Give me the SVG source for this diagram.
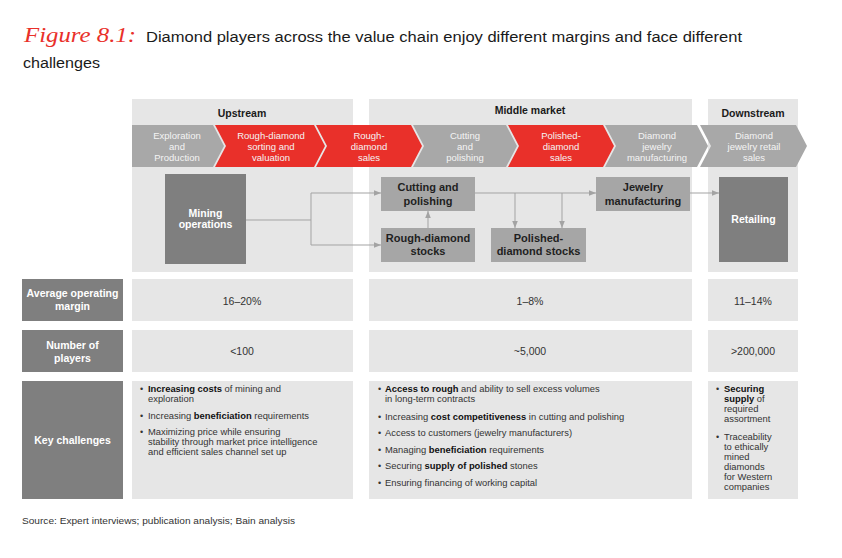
<svg xmlns="http://www.w3.org/2000/svg" width="842" height="558" viewBox="0 0 842 558">
<style>
text{font-family:"Liberation Sans",Arial,sans-serif}
.panel{fill:#e6e6e6}
.dark{fill:#7f7f7f}
.mid{fill:#a6a6a6}
.chg{fill:#a8a8a8}
.chr{fill:#e9302a}
.cht{font-size:9.5px;fill:#f4f4f4;text-anchor:middle}
.hd{font-size:10.5px;font-weight:bold;fill:#1a1a1a;text-anchor:middle}
.wb{font-size:10.5px;font-weight:bold;fill:#ffffff;text-anchor:middle}
.db{font-size:11px;font-weight:bold;fill:#1f1f1f;text-anchor:middle}
.val{font-size:10.5px;fill:#333;text-anchor:middle}
.bl{font-size:9.4px;fill:#333}
.bl tspan.b{font-weight:bold;fill:#111}
.dot{font-size:9px;fill:#333}
.con{stroke:#a3a3a3;stroke-width:1;fill:none}
</style>
<defs>
<marker id="ar" viewBox="0 0 10 10" refX="10" refY="5" markerWidth="7" markerHeight="7" orient="auto" markerUnits="userSpaceOnUse">
<path d="M0,1 L10,5 L0,9 Z" fill="#a3a3a3"/>
</marker>
</defs>
<rect width="842" height="558" fill="#ffffff"/>

<g id="title">
<text x="24" y="42" style="font-family:'Liberation Serif',serif;font-style:italic;font-size:22px;fill:#e9302a" textLength="112" lengthAdjust="spacingAndGlyphs">Figure 8.1:</text>
<text x="146" y="42" font-size="15.5" fill="#1a1a1a" textLength="596" lengthAdjust="spacingAndGlyphs">Diamond players across the value chain enjoy different margins and face different</text>
<text x="23" y="68" font-size="15.5" fill="#1a1a1a" textLength="77" lengthAdjust="spacingAndGlyphs">challenges</text>
</g>

<g id="panels">
<rect class="panel" x="132" y="99" width="221" height="173"/>
<rect class="panel" x="369" y="99" width="323" height="173"/>
<rect class="panel" x="708" y="99" width="90" height="173"/>
<text class="hd" x="242" y="117">Upstream</text>
<text class="hd" x="530" y="114">Middle market</text>
<text class="hd" x="753" y="117">Downstream</text>
</g>

<g id="chevrons">
<path class="chg" d="M132,125 H213 L224,146 L213,167 H132 Z"/>
<path class="chr" d="M215,125 H314 L325,146 L314,167 H215 L226,146 Z"/>
<path class="chr" d="M316,125 H411 L422,146 L411,167 H316 L327,146 Z"/>
<path class="chg" d="M413,125 H506 L517,146 L506,167 H413 L424,146 Z"/>
<path class="chr" d="M508,125 H603 L614,146 L603,167 H508 L519,146 Z"/>
<path class="chg" d="M605,125 H697 L708,146 L697,167 H605 L616,146 Z"/>
<path class="chg" d="M700,125 H796 L807,146 L796,167 H700 L711,146 Z"/>
<text class="cht" x="177" y="138.5">Exploration<tspan x="177" dy="11">and</tspan><tspan x="177" dy="11">Production</tspan></text>
<text class="cht" x="271" y="138.5">Rough-diamond<tspan x="271" dy="11">sorting and</tspan><tspan x="271" dy="11">valuation</tspan></text>
<text class="cht" x="369" y="138.5">Rough-<tspan x="369" dy="11">diamond</tspan><tspan x="369" dy="11">sales</tspan></text>
<text class="cht" x="465" y="138.5">Cutting<tspan x="465" dy="11">and</tspan><tspan x="465" dy="11">polishing</tspan></text>
<text class="cht" x="561" y="138.5">Polished-<tspan x="561" dy="11">diamond</tspan><tspan x="561" dy="11">sales</tspan></text>
<text class="cht" x="657" y="138.5">Diamond<tspan x="657" dy="11">jewelry</tspan><tspan x="657" dy="11">manufacturing</tspan></text>
<text class="cht" x="754" y="138.5">Diamond<tspan x="754" dy="11">jewelry retail</tspan><tspan x="754" dy="11">sales</tspan></text>
</g>

<g id="connectors">
<path class="con" d="M246,220 H311 M311,193 V245"/>
<path class="con" d="M311,193 H381" marker-end="url(#ar)"/>
<path class="con" d="M311,245 H381" marker-end="url(#ar)"/>
<path class="con" d="M428,228 V211" marker-end="url(#ar)"/>
<path class="con" d="M475,193 H596" marker-end="url(#ar)"/>
<path class="con" d="M515,193 V228" marker-end="url(#ar)"/>
<path class="con" d="M562,193 V228" marker-end="url(#ar)"/>
<path class="con" d="M690,193 H719" marker-end="url(#ar)"/>
</g>

<g id="mining">
<rect class="dark" x="165" y="174" width="81" height="90"/>
<text class="wb" x="205.5" y="217">Mining<tspan x="205.5" dy="11">operations</tspan></text>
</g>
<g id="cutting">
<rect class="mid" x="381" y="177" width="94" height="34"/>
<text class="db" x="428" y="191">Cutting and<tspan x="428" dy="14">polishing</tspan></text>
</g>
<g id="rough-stocks">
<rect class="mid" x="381" y="228" width="94" height="34"/>
<text class="db" x="428" y="242">Rough-diamond<tspan x="428" dy="13">stocks</tspan></text>
</g>
<g id="polished-stocks">
<rect class="mid" x="491" y="228" width="95" height="34"/>
<text class="db" x="538.5" y="242">Polished-<tspan x="538.5" dy="13">diamond stocks</tspan></text>
</g>
<g id="jewelry">
<rect class="mid" x="596" y="177" width="94" height="34"/>
<text class="db" x="643" y="191">Jewelry<tspan x="643" dy="14">manufacturing</tspan></text>
</g>
<g id="retailing">
<rect class="dark" x="719" y="177" width="69" height="85"/>
<text class="wb" x="753.5" y="223">Retailing</text>
</g>

<g id="row-margin">
<rect class="dark" x="22" y="279" width="101" height="42"/>
<text class="wb" x="72.5" y="297">Average operating<tspan x="72.5" dy="13">margin</tspan></text>
<rect class="panel" x="132" y="279" width="221" height="42"/>
<rect class="panel" x="369" y="279" width="323" height="42"/>
<rect class="panel" x="708" y="279" width="90" height="42"/>
<text class="val" x="242" y="305">16–20%</text>
<text class="val" x="530" y="305">1–8%</text>
<text class="val" x="753" y="305">11–14%</text>
</g>

<g id="row-players">
<rect class="dark" x="22" y="330" width="101" height="42"/>
<text class="wb" x="72.5" y="349">Number of<tspan x="72.5" dy="13">players</tspan></text>
<rect class="panel" x="132" y="330" width="221" height="42"/>
<rect class="panel" x="369" y="330" width="323" height="42"/>
<rect class="panel" x="708" y="330" width="90" height="42"/>
<text class="val" x="242" y="355">&lt;100</text>
<text class="val" x="530" y="355">~5,000</text>
<text class="val" x="753" y="355">&gt;200,000</text>
</g>

<g id="row-challenges">
<rect class="dark" x="22" y="381" width="101" height="118"/>
<text class="wb" x="72.5" y="444" font-size="11">Key challenges</text>
<rect class="panel" x="132" y="381" width="221" height="118"/>
<rect class="panel" x="369" y="381" width="323" height="118"/>
<rect class="panel" x="708" y="381" width="90" height="118"/>

<text class="dot" x="140" y="392">•</text>
<text class="bl" x="148" y="392"><tspan class="b">Increasing costs</tspan> of mining and<tspan x="148" dy="10">exploration</tspan></text>
<text class="dot" x="140" y="419">•</text>
<text class="bl" x="148" y="419">Increasing <tspan class="b">beneficiation</tspan> requirements</text>
<text class="dot" x="140" y="435">•</text>
<text class="bl" x="148" y="435">Maximizing price while ensuring<tspan x="148" dy="10">stability through market price intelligence</tspan><tspan x="148" dy="10">and efficient sales channel set up</tspan></text>

<text class="dot" x="378" y="392">•</text>
<text class="bl" x="385" y="392"><tspan class="b">Access to rough</tspan> and ability to sell excess volumes<tspan x="385" dy="10">in long-term contracts</tspan></text>
<text class="dot" x="378" y="420">•</text>
<text class="bl" x="385" y="420">Increasing <tspan class="b">cost competitiveness</tspan> in cutting and polishing</text>
<text class="dot" x="378" y="436">•</text>
<text class="bl" x="385" y="436">Access to customers (jewelry manufacturers)</text>
<text class="dot" x="378" y="453">•</text>
<text class="bl" x="385" y="453">Managing <tspan class="b">beneficiation</tspan> requirements</text>
<text class="dot" x="378" y="469">•</text>
<text class="bl" x="385" y="469">Securing <tspan class="b">supply of polished</tspan> stones</text>
<text class="dot" x="378" y="486">•</text>
<text class="bl" x="385" y="486">Ensuring financing of working capital</text>

<text class="dot" x="716" y="392">•</text>
<text class="bl" x="724" y="392"><tspan class="b">Securing</tspan><tspan x="724" dy="10" class="b">supply</tspan> of<tspan x="724" dy="10">required</tspan><tspan x="724" dy="10">assortment</tspan></text>
<text class="dot" x="716" y="440">•</text>
<text class="bl" x="724" y="440">Traceability<tspan x="724" dy="10">to ethically</tspan><tspan x="724" dy="10">mined</tspan><tspan x="724" dy="10">diamonds</tspan><tspan x="724" dy="10">for Western</tspan><tspan x="724" dy="10">companies</tspan></text>
</g>

<g id="source">
<text x="22" y="524" font-size="9.4" fill="#333" textLength="273" lengthAdjust="spacingAndGlyphs">Source:  Expert interviews; publication analysis; Bain analysis</text>
</g>
</svg>
